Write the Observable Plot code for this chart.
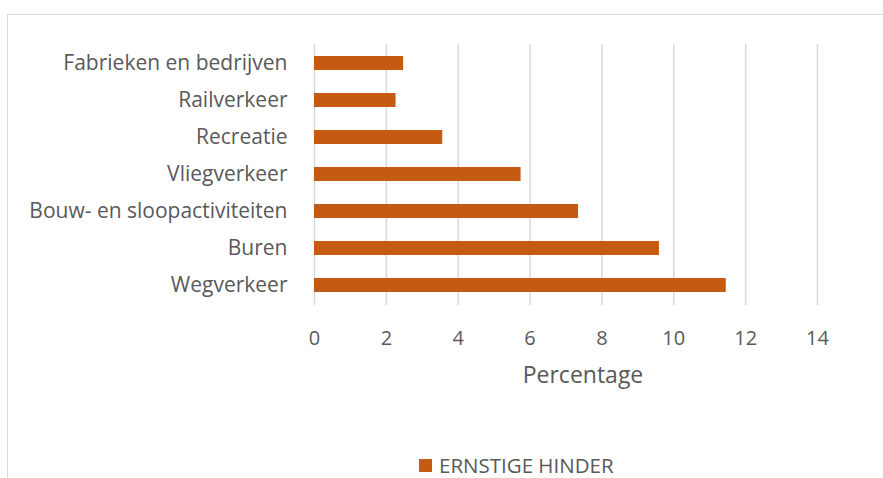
<!DOCTYPE html>
<html>
<head>
<meta charset="utf-8">
<script src="https://cdn.jsdelivr.net/npm/d3@7"></script>
<script src="https://cdn.jsdelivr.net/npm/@observablehq/plot@0.6"></script>
<style>
  html, body { margin: 0; padding: 0; background: #fff; overflow: hidden; }
  #wrap { position: relative; width: 883px; height: 478px; overflow: hidden; font-family: "Open Sans", sans-serif; }
  #frame { position: absolute; left: 7px; top: 14px; width: 1000px; height: 600px; border: 1.5px solid #d9d9d9; box-sizing: border-box; }
  #chart { position: absolute; left: 0; top: 0; }
  #legend { position: absolute; left: 419px; top: 451px; display: flex; align-items: center; color: #595959; font-size: 20.5px; }
  #legend .sw { width: 13px; height: 13px; background: #c55a11; margin-right: 7px; }
</style>
</head>
<body>
<div id="wrap">
  <div id="frame"></div>
  <div id="chart"></div>
  <div id="legend"><span class="sw"></span><span id="legendText"></span></div>
</div>
<script>
const categories = ["Fabrieken en bedrijven", "Railverkeer", "Recreatie", "Vliegverkeer", "Bouw- en sloopactiviteiten", "Buren", "Wegverkeer"];
const values = [2.48, 2.27, 3.57, 5.75, 7.35, 9.60, 11.46];
const xTicks = [0, 2, 4, 6, 8, 10, 12, 14];
const seriesName = "ERNSTIGE HINDER";
const xLabel = "Percentage";
const barColor = "#c55a11";

const data = categories.map((c, i) => ({category: c, value: values[i]}));

const chart = Plot.plot({
  width: 883,
  height: 440,
  marginLeft: 314,
  marginRight: 66,
  marginTop: 44,
  marginBottom: 135,
  style: {fontFamily: "'Open Sans', sans-serif", color: "#595959", background: "transparent"},
  x: {domain: [0, 14]},
  y: {domain: categories, paddingInner: 0.61, paddingOuter: 0.305},
  marks: [
    Plot.gridX(xTicks, {stroke: "#d9d9d9", strokeWidth: 1.5, strokeOpacity: 1}),
    Plot.barX(data, {x: "value", y: "category", fill: barColor}),
    Plot.axisX(xTicks, {tickSize: 0, tickPadding: 25, fontSize: 20, label: null, fill: "#595959"}),
    Plot.axisY({tickSize: 0, tickPadding: 27, fontSize: 21, label: null, fill: "#595959"}),
    Plot.text([xLabel], {frameAnchor: "bottom", dx: 17, dy: 77, fontSize: 23, fill: "#595959"})
  ]
});
document.getElementById("chart").appendChild(chart);
document.getElementById("legendText").textContent = seriesName;
</script>
</body>
</html>
